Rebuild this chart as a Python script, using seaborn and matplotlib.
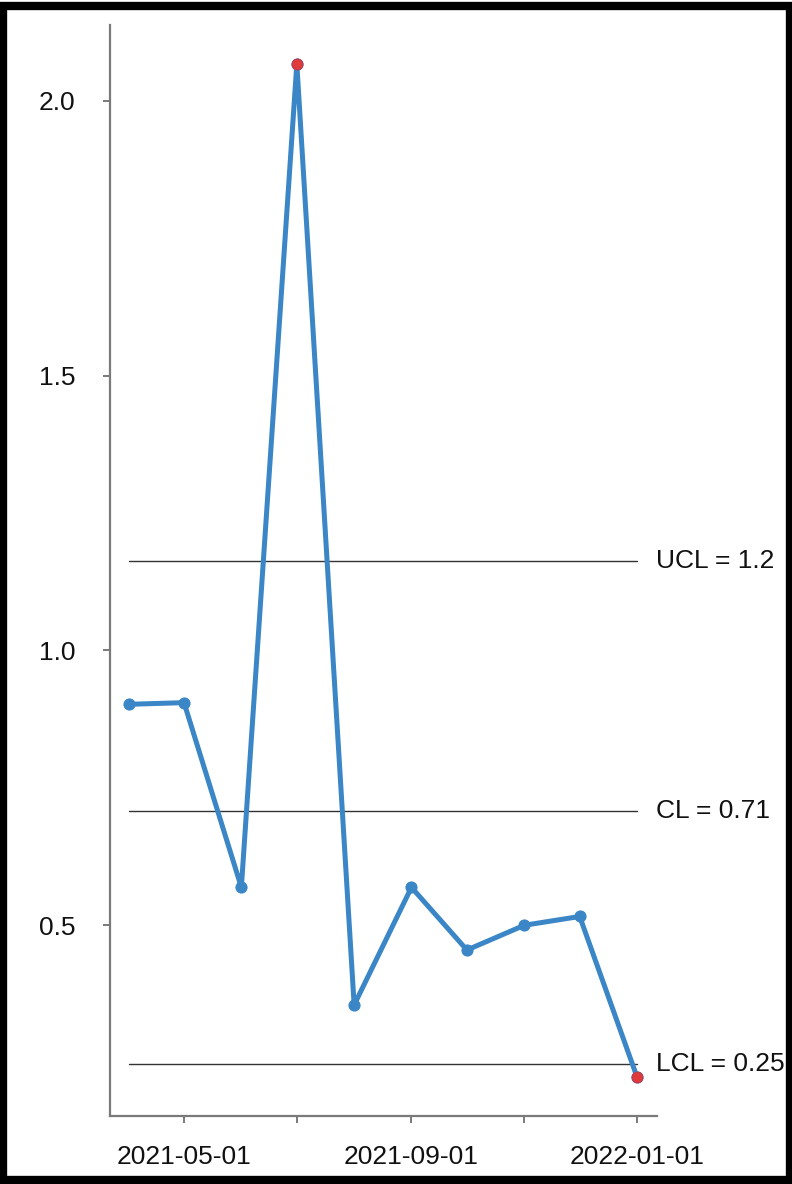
import matplotlib
matplotlib.use("Agg")
import matplotlib.pyplot as plt
import matplotlib.dates as mdates
from matplotlib.patches import Rectangle
import pandas as pd
import seaborn as sns

# Monthly measurements
months = ["2021-04-01", "2021-05-01", "2021-06-01", "2021-07-01", "2021-08-01",
          "2021-09-01", "2021-10-01", "2021-11-01", "2021-12-01", "2022-01-01"]
values = [0.902, 0.905, 0.569, 2.067, 0.355, 0.569, 0.455, 0.500, 0.516, 0.224]

# Control limits
ucl = 1.163
cl = 0.707
lcl = 0.247

df = pd.DataFrame({"month": pd.to_datetime(months), "value": values})
out = df[(df["value"] > ucl) | (df["value"] < lcl)]

sns.set_theme(style="white")
plt.rcParams["font.family"] = ["Liberation Sans", "DejaVu Sans"]

fig = plt.figure(figsize=(7.92, 11.84), dpi=100)
ax = fig.add_axes([0.139, 0.0574, 0.691, 0.9216])

blue = "#3a86c6"
sns.lineplot(data=df, x="month", y="value", ax=ax, color=blue, linewidth=3.6,
             marker="o", markersize=8, markeredgecolor=blue, markerfacecolor=blue)
sns.scatterplot(data=out, x="month", y="value", ax=ax, color="#e03a3a", s=60,
                edgecolor="#c33a4a", linewidth=0.8, zorder=5)

x0, x1 = df["month"].iloc[0], df["month"].iloc[-1]
for lvl, name in [(ucl, "UCL"), (cl, "CL"), (lcl, "LCL")]:
    ax.plot([x0, x1], [lvl, lvl], color="#333333", linewidth=1.0, zorder=1)
    ax.annotate(f"{name} = {lvl:.2g}", xy=(x1, lvl), xytext=(14, 0),
                textcoords="offset points", va="center", ha="left",
                fontsize=19, color="#111111", annotation_clip=False)

ax.set_xlim(pd.Timestamp("2021-03-22"), pd.Timestamp("2022-01-12"))
ax.set_ylim(0.153, 2.138)
ax.set_yticks([0.5, 1.0, 1.5, 2.0])
ax.yaxis.set_major_formatter(matplotlib.ticker.FormatStrFormatter("%.1f"))

ax.xaxis.set_major_locator(mdates.MonthLocator(bymonth=[1, 5, 9]))
ax.xaxis.set_minor_locator(mdates.MonthLocator(bymonth=[3, 7, 11]))
ax.xaxis.set_major_formatter(mdates.DateFormatter("%Y-%m-%d"))

ax.set_xlabel("")
ax.set_ylabel("")
for side in ["top", "right"]:
    ax.spines[side].set_visible(False)
for side in ["left", "bottom"]:
    ax.spines[side].set_color("#7a7a7a")
    ax.spines[side].set_linewidth(1.6)

ax.tick_params(axis="both", which="both", direction="out", length=5, width=1.4,
               color="#7a7a7a", labelsize=19, labelcolor="#111111")
ax.tick_params(axis="y", pad=20, left=True)
ax.tick_params(axis="x", pad=16, bottom=True)
ax.tick_params(axis="x", which="minor", bottom=True, length=5)

# Black frame around the figure
fig.patches.append(Rectangle((0.004, 0.003), 0.993, 0.992, transform=fig.transFigure,
                             fill=False, edgecolor="black", linewidth=6))

fig.savefig("out.png", dpi=100)
